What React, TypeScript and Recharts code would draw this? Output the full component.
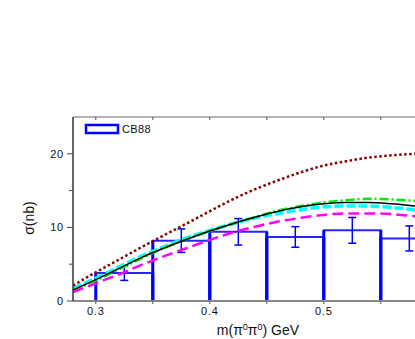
import {
  ComposedChart,
  ErrorBar,
  Line,
  ReferenceArea,
  ReferenceLine,
  Scatter,
  XAxis,
  YAxis,
} from "recharts";

// curve sample points (GeV)
const mass = [0.28, 0.3, 0.32, 0.34, 0.36, 0.38, 0.4, 0.42, 0.44, 0.46, 0.48, 0.5, 0.52, 0.54, 0.56, 0.58, 0.6];
const dotted = [2.1, 3.9, 5.6, 7.3, 8.95, 10.55, 12.2, 13.8, 15.2, 16.4, 17.5, 18.4, 19.0, 19.5, 19.8, 20.0, 20.2];
const solid = [1.5, 2.9, 4.4, 5.9, 7.2, 8.4, 9.5, 10.5, 11.4, 12.2, 12.8, 13.2, 13.4, 13.4, 13.2, 12.9, 12.6];
const dashDot = [1.4, 2.8, 4.3, 5.8, 7.2, 8.4, 9.5, 10.5, 11.4, 12.3, 12.9, 13.4, 13.7, 13.9, 13.8, 13.6, 13.3];
const cyanDash = [1.7, 3.1, 4.6, 6.1, 7.4, 8.6, 9.6, 10.5, 11.3, 11.9, 12.4, 12.8, 12.9, 12.9, 12.7, 12.4, 12.1];
const magentaDash = [1.2, 2.4, 3.6, 4.9, 6.1, 7.2, 8.3, 9.3, 10.1, 10.8, 11.3, 11.7, 11.9, 11.9, 11.8, 11.5, 11.2];

// CB88 histogram
const binLo = [0.3, 0.35, 0.4, 0.45, 0.5, 0.55];
const binHi = [0.35, 0.4, 0.45, 0.5, 0.55, 0.6];
const binVal = [3.8, 8.2, 9.4, 8.7, 9.6, 8.5];
const binErr = [1.0, 1.6, 1.8, 1.4, 1.75, 1.7];

const xMajor = [0.3, 0.4, 0.5];
const xTicks = [0.3, 0.35, 0.4, 0.45, 0.5, 0.55];
const yMajor = [0, 10, 20];
const yTicks = [0, 5, 10, 15, 20];

const curves = mass.map((m, i) => ({
  m,
  dotted: dotted[i],
  solid: solid[i],
  dashDot: dashDot[i],
  cyanDash: cyanDash[i],
  magentaDash: magentaDash[i],
}));

const points = binLo.map((lo, i) => ({
  m: (lo + binHi[i]) / 2,
  v: binVal[i],
  err: binErr[i],
}));

const FONT = "'Liberation Sans', Arial, sans-serif";
const BLUE = "#0000ff";

function BottomTick(props: any) {
  const { x, y, payload } = props;
  const major = xMajor.some((t) => Math.abs(t - payload.value) < 1e-6);
  return (
    <g>
      <line x1={x} x2={x} y1={y} y2={y + 3} stroke="#555" strokeWidth={1} />
      {major && (
        <text x={x} y={y + 14} textAnchor="middle" fontSize={11} letterSpacing={0.8} fill="#111" fontFamily={FONT}>
          {payload.value.toFixed(1)}
        </text>
      )}
    </g>
  );
}

function TopTick(props: any) {
  const { x, y } = props;
  return <line x1={x} x2={x} y1={y} y2={y + 3} stroke="#555" strokeWidth={1} />;
}

function LeftTick(props: any) {
  const { x, y, payload } = props;
  const major = yMajor.includes(payload.value);
  return (
    <g>
      <line x1={x - (major ? 6 : 4)} x2={x} y1={y} y2={y} stroke="#444" strokeWidth={1} />
      {major && (
        <text x={x - 9} y={y + 4} textAnchor="end" fontSize={11} letterSpacing={0.8} fill="#111" fontFamily={FONT}>
          {payload.value}
        </text>
      )}
    </g>
  );
}

export default function App() {
  return (
    <div style={{ position: "fixed", left: 0, top: 0, width: 415, height: 339, background: "#fff", overflow: "hidden" }}>
      <ComposedChart width={415} height={339} data={curves} margin={{ top: 112, right: 0, bottom: 0, left: 0 }}>
        <XAxis
          xAxisId="b"
          dataKey="m"
          type="number"
          domain={[0.28, 0.58]}
          allowDataOverflow
          ticks={xTicks}
          interval={0}
          height={38}
          stroke="#888"
          strokeWidth={2}
          tickLine={false}
          tickSize={0}
          tickMargin={0}
          tick={<BottomTick />}
        />
        <XAxis
          xAxisId="t"
          orientation="top"
          dataKey="m"
          type="number"
          domain={[0.28, 0.58]}
          allowDataOverflow
          ticks={xTicks}
          interval={0}
          height={5}
          stroke="#999"
          strokeWidth={1.5}
          tickLine={false}
          tickSize={0}
          tickMargin={0}
          tick={<TopTick />}
        />
        <YAxis
          yAxisId="l"
          type="number"
          domain={[0, 25]}
          ticks={yTicks}
          interval={0}
          width={73}
          stroke="#333"
          strokeWidth={1.5}
          tickLine={false}
          tickSize={0}
          tickMargin={0}
          tick={<LeftTick />}
        />

        {binLo.map((lo, i) => (
          <ReferenceArea
            key={`bin${i}`}
            xAxisId="b"
            yAxisId="l"
            x1={lo}
            x2={binHi[i]}
            y1={0}
            y2={binVal[i]}
            fill="none"
            fillOpacity={0}
            stroke={BLUE}
            strokeWidth={2}
            strokeOpacity={0.85}
            ifOverflow="hidden"
          />
        ))}
        {binLo.map((lo, i) => (
          <ReferenceLine
            key={`edge${i}`}
            xAxisId="b"
            yAxisId="l"
            segment={[{ x: lo, y: 0 }, { x: lo, y: binVal[i] }]}
            stroke={BLUE}
            strokeWidth={3}
          />
        ))}
        {binHi.map((hi, i) => (
          <ReferenceLine
            key={`edgeR${i}`}
            xAxisId="b"
            yAxisId="l"
            segment={[{ x: hi, y: 0 }, { x: hi, y: binVal[i] }]}
            stroke={BLUE}
            strokeWidth={3}
            ifOverflow="discard"
          />
        ))}

        <Scatter xAxisId="b" yAxisId="l" data={points} dataKey="v" shape={() => <g />} isAnimationActive={false}>
          <ErrorBar dataKey="err" direction="y" width={4} stroke={BLUE} strokeWidth={1.5} />
        </Scatter>

        <Line xAxisId="b" yAxisId="l" dataKey="cyanDash" type="monotone" stroke="#00ffff" strokeWidth={3.5} strokeDasharray="9 3" dot={false} isAnimationActive={false} />
        <Line xAxisId="b" yAxisId="l" dataKey="dashDot" type="monotone" stroke="#00ee00" strokeWidth={2.5} strokeDasharray="9 3 2 3" dot={false} isAnimationActive={false} />
        <Line xAxisId="b" yAxisId="l" dataKey="solid" type="monotone" stroke="#000" strokeWidth={1.5} dot={false} isAnimationActive={false} />
        <Line xAxisId="b" yAxisId="l" dataKey="magentaDash" type="monotone" stroke="#ff00ff" strokeWidth={2.5} strokeDasharray="11 5" dot={false} isAnimationActive={false} />
        <Line xAxisId="b" yAxisId="l" dataKey="dotted" type="monotone" stroke="#8b0000" strokeWidth={2.5} strokeDasharray="2.5 2.5" dot={false} isAnimationActive={false} />

        {/* legend */}
        <rect x={86} y={125} width={32} height={8} fill="none" stroke={BLUE} strokeWidth={2.5} />
        <text x={122} y={133} fontSize={11} letterSpacing={0.4} fill="#111" fontFamily={FONT}>
          CB88
        </text>

        <text transform="translate(34,218) rotate(-90)" textAnchor="middle" fontSize={14} fill="#111" fontFamily={FONT}>
          σ(nb)
        </text>
        <text x={258} y={335} textAnchor="middle" fontSize={14} fill="#111" fontFamily={FONT}>
          m(π<tspan dy={-5} fontSize={9}>0</tspan>
          <tspan dy={5}>π</tspan>
          <tspan dy={-5} fontSize={9}>0</tspan>
          <tspan dy={5}>) GeV</tspan>
        </text>
      </ComposedChart>
    </div>
  );
}
